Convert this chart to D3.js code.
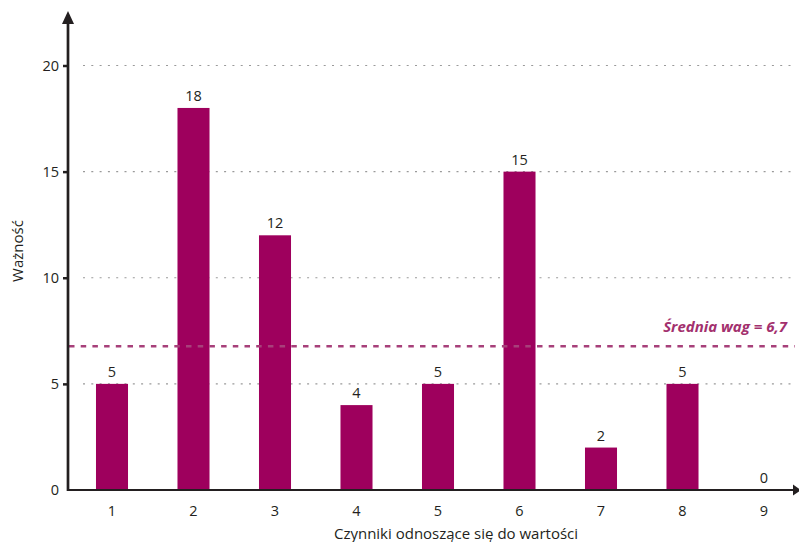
<!DOCTYPE html>
<html><head><meta charset="utf-8">
<script src="https://cdn.jsdelivr.net/npm/d3@7"></script>
<style>body{margin:0;background:#fff}svg{display:block}text{font-family:"Open Sans",sans-serif;fill:#231f20}</style>
</head><body><svg id="c" width="799" height="542"></svg>
<script>
const categories = ["1","2","3","4","5","6","7","8","9"];
const values = [5,18,12,4,5,15,2,5,0];
const yTicks = [0,5,10,15,20];
const meanValue = 6.7;
const meanLabel = "Średnia wag = 6,7";
const xTitle = "Czynniki odnoszące się do wartości";
const yTitle = "Ważność";

const svg = d3.select("#c");
const x = d3.scaleBand().domain(categories).range([71.25, 804.75]).paddingInner(0.607).paddingOuter(0.3035);
const y = d3.scaleLinear().domain([0,20]).range([490, 65.5]);
const barColor = "#9e005d", meanColor = "#a7407a", dark = "#231f20";

// grid
svg.append("g").selectAll("line").data(yTicks.filter(d=>d>0)).join("line")
  .attr("x1",83).attr("x2",791).attr("y1",d=>y(d)).attr("y2",d=>y(d))
  .attr("stroke","#9a9a9a").attr("stroke-width",1.2).attr("stroke-dasharray","2 6.3");

// bars
svg.append("g").selectAll("rect").data(values).join("rect")
  .attr("x",(d,i)=>x(categories[i])).attr("width",x.bandwidth())
  .attr("y",d=>y(d)).attr("height",d=>y(0)-y(d)).attr("fill",barColor);

// value labels
svg.append("g").selectAll("text").data(values).join("text")
  .attr("x",(d,i)=>x(categories[i])+x.bandwidth()/2).attr("y",d=>y(d)-7)
  .attr("text-anchor","middle").attr("font-size",14.5).text(d=>d);

// mean line
svg.append("line").attr("x1",69).attr("x2",795).attr("y1",y(meanValue)-1.5).attr("y2",y(meanValue)-1.5)
  .attr("stroke",meanColor).attr("stroke-width",2.5).attr("stroke-dasharray","5.5 6.2");
svg.append("text").attr("x",787).attr("y",332).attr("text-anchor","end")
  .attr("font-size",15).attr("font-weight","bold").attr("font-style","italic")
  .style("fill","#a3306e").text(meanLabel);

// y axis
const yAxis = d3.axisLeft(y).tickValues(yTicks).tickSize(5).tickPadding(4);
const gy = svg.append("g").attr("transform","translate(68,0)").call(yAxis);
gy.select(".domain").remove();
gy.selectAll(".tick line").attr("stroke",dark).attr("stroke-width",2.5);
gy.selectAll(".tick text").attr("font-size",14.5).attr("font-family","Open Sans").style("fill",dark);
gy.selectAll(".tick").filter(d=>d===0).select("line").remove();
svg.append("line").attr("x1",68).attr("x2",68).attr("y1",491).attr("y2",20).attr("stroke",dark).attr("stroke-width",2.7);
svg.append("path").attr("d","M62,24 L68,11 L74,24 Z").attr("fill",dark);

// x axis
const xAxis = d3.axisBottom(x).tickSize(0).tickPadding(15.5);
const gx = svg.append("g").attr("transform","translate(0,490)").call(xAxis);
gx.select(".domain").remove();
gx.selectAll(".tick text").attr("font-size",14.5).attr("font-family","Open Sans").style("fill",dark);
svg.append("line").attr("x1",67).attr("x2",794).attr("y1",490).attr("y2",490).attr("stroke",dark).attr("stroke-width",2.2);
svg.append("path").attr("d","M793,484.5 L801,490 L793,495.5 Z").attr("fill",dark);

// titles
svg.append("text").attr("x",456).attr("y",539).attr("text-anchor","middle").attr("font-size",15).text(xTitle);
svg.append("text").attr("transform","translate(23,251) rotate(-90)").attr("text-anchor","middle").attr("font-size",15).text(yTitle);
</script></body></html>
